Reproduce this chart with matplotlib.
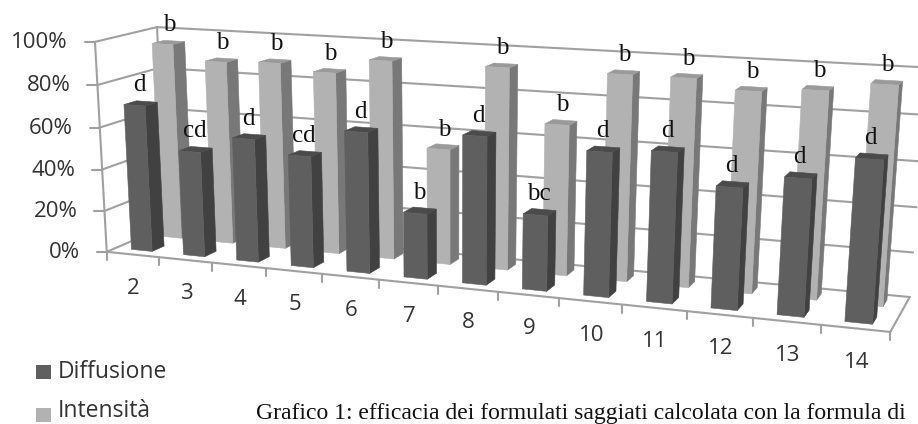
from matplotlib import pyplot as plt
from matplotlib import patches as patches
import numpy as np

categories = ["2", "3", "4", "5", "6", "7", "8", "9", "10", "11", "12", "13", "14"]
diffusione = [70, 50, 58, 52, 65, 30, 67, 34, 64, 66, 53, 59, 69]
intensita = [95, 88, 89, 86, 93, 54, 93, 69, 93, 93, 89, 91, 95]
labels_diff = ["d", "cd", "d", "cd", "d", "b", "d", "bc", "d", "d", "d", "d", "d"]
labels_int = ["b"] * 13
y_ticks = [0, 20, 40, 60, 80, 100]

GRID = "#a0a0a0"
DARK = ("#5f5f5f", "#414141", "#4b4b4b")
LIGHT = ("#b2b2b2", "#787878", "#9a9a9a")

# corners of the 3d box: (category, depth, value) -> pixel, solved into one matrix
corners = [((0, 0, 0), (107, 252)), ((1, 0, 0), (890, 333)), ((0, 0, 1), (95, 43)),
           ((1, 1, 0), (910, 296)), ((0, 1, 1), (157, 26)), ((1, 1, 1), (927, 70)),
           ((0, 1, 0), (166, 226)), ((1, 0, 1), (908, 85))]
rows = []
rhs = []
for (a, b, c), (px, py) in corners:
    rows.append([a, b, c, 1, 0, 0, 0, 0, -px * a, -px * b, -px * c])
    rhs.append(px)
    rows.append([0, 0, 0, 0, a, b, c, 1, -py * a, -py * b, -py * c])
    rhs.append(py)
m = np.linalg.lstsq(np.array(rows, float), np.array(rhs, float), rcond=None)[0]
m = np.append(m, 1).reshape(3, 4)


def project(cat, depth, value):
    # cat counted in category slots, value in percent
    p = m @ np.array([cat / len(categories), depth, value / 100, 1])
    return p[0] / p[2], p[1] / p[2]


def line(a, b, **kw):
    ax.plot([a[0], b[0]], [a[1], b[1]], color=GRID, lw=1.5, solid_capstyle="round", **kw)


def bar(i, d0, d1, value, colors, zorder):
    x0, x1 = i + 0.3, i + 0.7
    front = [project(x0, d0, 0), project(x1, d0, 0), project(x1, d0, value), project(x0, d0, value)]
    side = [project(x1, d0, 0), project(x1, d1, 0), project(x1, d1, value), project(x1, d0, value)]
    top = [project(x0, d0, value), project(x1, d0, value), project(x1, d1, value), project(x0, d1, value)]
    for poly, col in zip((side, top, front), (colors[1], colors[2], colors[0])):
        ax.add_patch(patches.Polygon(poly, closed=True, facecolor=col, edgecolor=col, lw=0.4, zorder=zorder))


fig = plt.figure(figsize=(9.18, 4.24), dpi=100)
ax = fig.add_axes([0, 0, 1, 1])
ax.set_xlim(0, 918)
ax.set_ylim(424, 0)
ax.axis("off")

n = len(categories)
for v in y_ticks:
    line(project(0, 0, v), project(0, 1, v))
    line(project(0, 1, v), project(n, 1, v))
    px, py = project(0, 0, v)
    line((px - 10, py), (px, py))
    ax.text(px - 27, py + 1, "%d%%" % v, ha="right", va="center", fontsize=16, family="Open Sans", color="#333333")

line(project(0, 0, 0), project(0, 0, 100))
line(project(0, 1, 0), project(0, 1, 100))
line(project(0, 0, 0), project(n, 0, 0))
line(project(n, 0, 0), project(n, 1, 0))

for i in range(n + 1):
    px, py = project(i, 0, 0)
    line((px, py), (px, py + 8))

for i in range(n):
    bar(i, 0.65, 0.85, intensita[i], LIGHT, 3 + (n - i) * 0.01)
for i in range(n):
    bar(i, 0.15, 0.35, diffusione[i], DARK, 4 + (n - i) * 0.01)

for i in range(n):
    px, py = project(i + 0.5, 0.75, intensita[i])
    ax.text(px + 1, py - 17, labels_int[i], ha="center", va="center", fontsize=18, family="Liberation Serif", color="#111111", zorder=6)
    px, py = project(i + 0.5, 0.25, diffusione[i])
    ax.text(px - 1, py - 18, labels_diff[i], ha="center", va="center", fontsize=18, family="Liberation Serif", color="#111111", zorder=6)
    px, py = project(i + 0.5, 0, 0)
    ax.text(px + 1, py + 34, categories[i], ha="center", va="center", fontsize=16, family="Open Sans", color="#333333")

ax.add_patch(patches.Rectangle((36, 365), 15, 14, facecolor=DARK[0], linewidth=0))
ax.text(58, 378, "Diffusione", ha="left", va="baseline", fontsize=16.5, family="Open Sans", color="#333333")
ax.add_patch(patches.Rectangle((36, 408), 15, 14, facecolor=LIGHT[0], linewidth=0))
ax.text(58, 417, "Intensità", ha="left", va="baseline", fontsize=16.5, family="Open Sans", color="#333333")

ax.text(256, 414, "Grafico 1: efficacia dei formulati saggiati calcolata con la formula di",
        ha="left", va="center", fontsize=17, family="Liberation Serif", color="#111111")

plt.savefig("out.png", dpi=100)
